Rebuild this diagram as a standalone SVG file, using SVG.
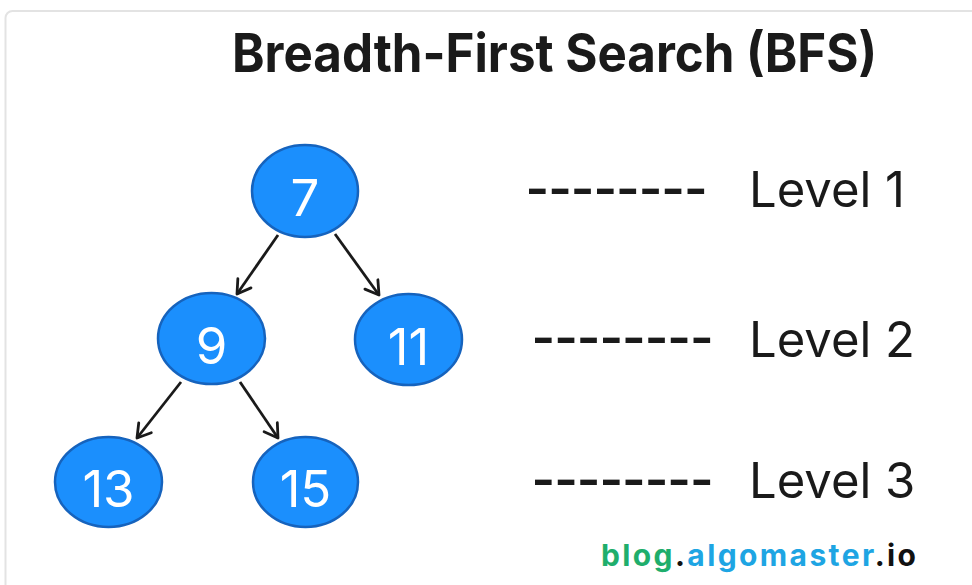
<svg xmlns="http://www.w3.org/2000/svg" width="972" height="585" viewBox="0 0 972 585">
  <style>
    .node ellipse { fill: #1b8ffd; stroke: #1663bd; stroke-width: 2.5; }
    .node text { font-family: Inter, "Liberation Sans", sans-serif; font-size: 51px; fill: #ffffff; text-anchor: middle; }
    .edge { stroke: #1a1a1a; stroke-width: 2.8; fill: none; marker-end: url(#chev); }
    .level { font-family: Inter, "Liberation Sans", sans-serif; font-size: 49px; fill: #1a1a1a; }
    .dash { font-family: "Liberation Sans", Arial, sans-serif; font-size: 68px; fill: #1a1a1a; }
  </style>
  <defs>
    <marker id="chev" viewBox="-16 -10 20 20" refX="0" refY="0" markerWidth="20" markerHeight="20" markerUnits="userSpaceOnUse" orient="auto">
      <path d="M -13 -8 L 0 0 L -13 8" fill="none" stroke="#1a1a1a" stroke-width="2.8" stroke-linecap="round" stroke-linejoin="round"/>
    </marker>
  </defs>

  <rect width="972" height="585" fill="#ffffff"/>
  <!-- card frame -->
  <rect x="5.5" y="11" width="990" height="600" rx="7" fill="#ffffff" stroke="#e3e3e3" stroke-width="2"/>

  <text x="232" y="72" font-family="Inter, 'Liberation Sans', sans-serif" font-weight="700" font-size="53" fill="#1a1a1a" textLength="645" lengthAdjust="spacingAndGlyphs">Breadth-First Search (BFS)</text>

  <g id="edges">
    <line class="edge" x1="278" y1="235" x2="237" y2="294"/>
    <line class="edge" x1="335" y1="234" x2="379" y2="295"/>
    <line class="edge" x1="181" y1="382" x2="137" y2="438"/>
    <line class="edge" x1="240" y1="382" x2="278" y2="438"/>
  </g>

  <g id="n7" class="node"><ellipse cx="305" cy="191" rx="53" ry="46"/><text x="305" y="216">7</text></g>
  <g id="n9" class="node"><ellipse cx="211.5" cy="338.5" rx="53.5" ry="45.5"/><text x="211.5" y="364">9</text></g>
  <g id="n11" class="node"><ellipse cx="408.5" cy="339.5" rx="53.5" ry="45.5"/><text x="408.5" y="365">11</text></g>
  <g id="n13" class="node"><ellipse cx="108.5" cy="482" rx="53.5" ry="45"/><text x="108.5" y="507">13</text></g>
  <g id="n15" class="node"><ellipse cx="305.5" cy="482" rx="52.5" ry="45"/><text x="305.5" y="507">15</text></g>

  <g id="level1">
    <text class="dash" x="526" y="210">--------</text>
    <text class="level" x="749" y="207">Level 1</text>
  </g>
  <g id="level2">
    <text class="dash" x="532" y="359">--------</text>
    <text class="level" x="749" y="357">Level 2</text>
  </g>
  <g id="level3">
    <text class="dash" x="532" y="501">--------</text>
    <text class="level" x="749" y="498">Level 3</text>
  </g>

  <text x="601" y="566" font-family="Inter, 'Liberation Sans', sans-serif" font-weight="700" font-size="30" textLength="315" lengthAdjust="spacing"><tspan fill="#1fae6c">blog</tspan><tspan fill="#111111">.</tspan><tspan fill="#1ea5e3">algomaster</tspan><tspan fill="#111111">.io</tspan></text>
</svg>
